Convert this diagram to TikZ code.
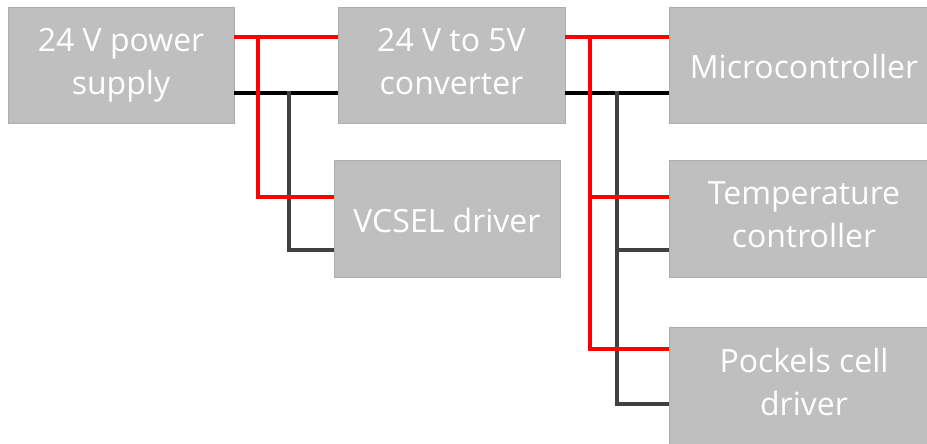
\documentclass[tikz,border=0pt]{standalone}
\usepackage{fontspec}
\setmainfont{Open Sans}
\definecolor{boxgray}{HTML}{BFBFBF}
\definecolor{boxline}{HTML}{ADADAD}
\definecolor{wiregray}{HTML}{404040}
\newcommand{\lnstrut}{\rule[-8pt]{0pt}{43pt}}
\newcommand{\tlstrut}{\rule[-8pt]{0pt}{53pt}}
\begin{document}
\begin{tikzpicture}[x=1pt,y=-1pt,line cap=butt,line join=miter,
  blk/.style={draw=boxline,line width=0.8pt,fill=boxgray,text=white,
    font=\fontsize{32}{43}\selectfont,align=center,inner sep=0pt,
    minimum height=116pt,execute at begin node=\lnstrut,execute at end node=\lnstrut},
  twol/.style={execute at begin node=\tlstrut},
  vpos/.style={draw=red,line width=4.6pt},
  vneg/.style={draw=black,line width=4.6pt},
  vgnd/.style={draw=wiregray,line width=4.6pt}]
  \useasboundingbox (0,0) rectangle (927,444);
  % blocks
  \node[blk,twol,minimum width=226pt] (psu) at (121,65) {24 V power\\supply};
  \node[blk,twol,minimum width=227pt] (conv) at (451.5,65) {24 V to 5V\\converter};
  \node[blk,minimum width=270pt] (mcu) at (804,65) {Microcontroller};
  \node[blk,minimum width=226pt,minimum height=117pt] (vcsel) at (447,218.5) {VCSEL driver};
  \node[blk,twol,minimum width=270pt,minimum height=117pt] (temp) at (804,218.5) {Temperature\\controller};
  \node[blk,twol,minimum width=270pt,minimum height=117pt] (pock) at (804,385.5) {Pockels cell\\driver};
  % junctions
  \coordinate (jl+) at (258,37);
  \coordinate (jl-) at (289,93);
  \coordinate (jr+) at (590,37);
  \coordinate (jr-) at (617,93);
  % ground side
  \draw[vneg] ([yshift=-28pt]psu.east) -- ([yshift=-28pt]conv.west);
  \draw[vneg] ([yshift=-28pt]conv.east) -- ([yshift=-28pt]mcu.west);
  \draw[vgnd] ([yshift=2.3pt]jl-) |- ([yshift=-31.5pt]vcsel.west);
  \draw[vgnd] ([yshift=2.3pt]jr-) |- ([yshift=-18.5pt]pock.west);
  \draw[vgnd] ([yshift=-31.5pt]temp.west) -| (jr-);
  % supply side
  \draw[vpos] ([yshift=28pt]psu.east) -- ([yshift=28pt]conv.west);
  \draw[vpos] ([yshift=28pt]conv.east) -- ([yshift=28pt]mcu.west);
  \draw[vpos] ([yshift=2.3pt]jl+) |- ([yshift=21.5pt]vcsel.west);
  \draw[vpos] ([yshift=2.3pt]jr+) |- ([yshift=36.5pt]pock.west);
  \draw[vpos] ([yshift=21.5pt]temp.west) -| (jr+);
\end{tikzpicture}
\end{document}
